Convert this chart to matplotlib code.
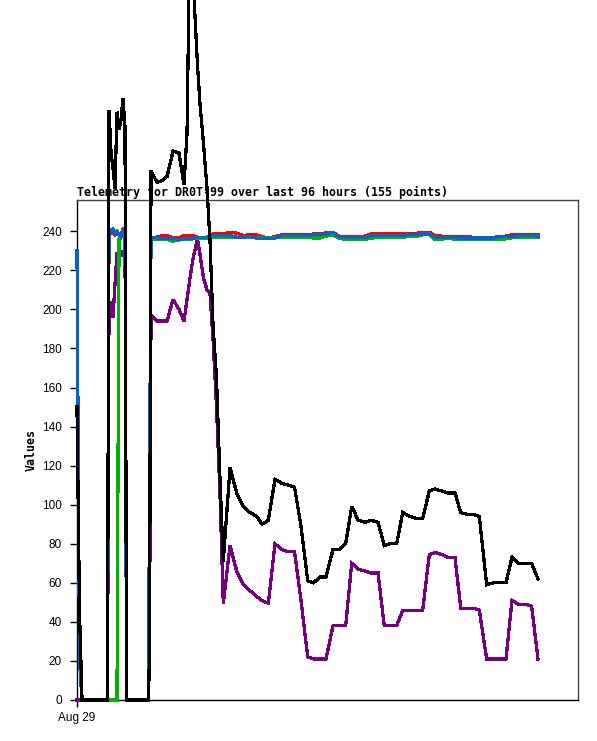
import matplotlib
matplotlib.use('Agg')
import matplotlib.pyplot as plt

# hours since Aug 29 00:00
hours = [0.00, 0.48, 0.96, 5.84, 6.13, 6.51, 6.90, 7.28, 7.66, 8.05, 8.43, 8.81,
         9.20, 9.49, 13.70, 13.89, 14.18, 15.33, 16.29, 17.25, 18.40, 19.54, 20.50,
         21.08, 21.65, 22.23, 23.09, 23.57, 24.24, 24.91, 25.49, 26.06, 26.73, 27.40,
         28.03, 29.32, 30.60, 31.87, 33.15, 34.43, 35.45, 36.66, 37.94, 39.22,
         40.49, 41.68, 42.92, 44.21, 45.32, 46.56, 47.71, 49.05, 50.20, 51.48,
         52.64, 53.90, 55.19, 56.34, 57.68, 58.88, 59.98, 61.26, 62.41, 63.81,
         64.96, 66.24, 67.51, 68.60, 69.88, 71.03, 72.43, 73.53, 74.79, 76.07,
         77.09, 78.50, 79.77, 81.05, 82.20, 83.35, 84.63, 85.90, 87.12, 88.33]

black_vals = [150, 45, 0, 0, 302, 281, 272, 262, 301, 292, 297, 308, 293, 0, 0, 25,
              271, 265, 266, 268, 281, 280, 264, 290, 400, 370, 325, 305, 285, 262,
              235, 192, 165, 113,
              71, 119, 106, 99, 96, 94, 90, 92, 113, 111, 110, 109, 89, 61, 60, 63,
              63, 77, 77, 80, 99, 92, 91, 92, 91, 79, 80, 80, 96, 94, 93, 93, 107,
              108, 107, 106, 106, 96, 95, 95, 94, 59, 60, 60, 60, 73, 70, 70, 70, 62]

purple_vals = [0, 0, 0, 0, 200, 204, 196, 213, 229, 226, 230, 227, 231, 0, 0, 25,
               197, 194, 194, 194, 205, 200, 194, 205, 216, 226, 236, 228, 216, 210,
               208, 185, 150, 105,
               49.5, 79, 66, 59, 56, 53, 51, 49.5, 80, 77, 76, 76, 51, 22, 21, 21,
               21, 38, 38, 38, 70, 67, 66, 65, 65, 38, 38, 38, 46, 46, 46, 46, 74.5,
               75.5, 74.5, 73, 73, 47, 47, 47, 46, 21, 21, 21, 21, 51, 49, 49, 48, 21]

red_vals = [230, 20, 0, 0, 239, 239, 239, 238, 239, 238, 238, 241, 240, 0, 0, 105,
            237, 237, 237.8, 237.8, 236.7, 236.7, 237.8, 237.8, 237.8, 237.8, 237,
            237, 237, 237, 238, 238.6, 238.6, 238.6,
            238.6, 239.5, 239, 237.8, 238.2, 238.2, 237.3, 236.5, 237.3, 238.2,
            238.2, 238.2, 238.2, 238.2, 238.6, 238.6, 239.2, 239.5, 237.5, 237.5,
            237.5, 237.5, 237.5, 238.6, 238.6, 238.6, 238.6, 238.6, 238.6, 238.9,
            238.9, 239.5, 239.5, 237.8, 237.5, 237.5, 237.5, 237.5, 237.5, 236.7,
            236.7, 236.7, 236.7, 237.5, 237.5, 238.2, 238.2, 238.2, 238.2, 238.2]

green_vals = [230, 20, 0, 0, 0, 0, 0, 0, 0, 236, 237, 238, 238, 0, 0, 100,
              235.8, 235.8, 235.8, 235.8, 234.8, 235.8, 235.8, 235.8, 235.8, 236.1,
              236.1, 236.1, 236.1, 236.1, 237.1, 237.1, 237.1, 237.1,
              237.1, 237.1, 236.7, 236.7, 236.7, 236.7, 236.7, 236.7, 236.7, 237,
              237.1, 237.1, 237.1, 237.1, 236.5, 236.5, 237.5, 238.2, 236.5, 235.8,
              235.8, 235.8, 235.8, 236.4, 237, 237, 237, 237, 237, 237.3,
              237.3, 238.2, 238.2, 235.8, 235.8, 236.7, 235.8, 235.8, 235.8, 235.8,
              235.8, 235.8, 235.8, 235.8, 236.1, 236.7, 236.7, 236.7, 236.7, 236.7]

blue_vals = [230, 20, 0, 0, 241, 240, 241, 239, 240, 238, 237, 240, 239, 0, 0, 110,
             236.7, 236.7, 236.1, 236.1, 236.1, 235.5, 236.1, 236.1, 236.1, 236.1,
             237, 237, 237, 237, 237.5, 237.8, 237.8, 237.8,
             237.8, 237.8, 237, 237, 237.3, 236.5, 236.1, 236.1, 236.5, 237.8,
             237.8, 237.8, 237.8, 237.8, 238.2, 238.2, 238.6, 239.5, 237, 236.7,
             236.7, 236.7, 236.7, 237.8, 237.8, 237.8, 237.8, 237.8, 237.8, 238.2,
             238.2, 238.6, 238.6, 237, 237, 237, 236.7, 236.5, 236.5, 236.5,
             236.5, 236.5, 236.5, 237.3, 237.3, 237.3, 237.8, 237.8, 237.8, 237.5]

y_ticks = list(range(0, 241, 20))
x_ticks = [0]
x_labels = ['Aug 29']

fig = plt.figure(figsize=(5.97, 7.41), dpi=100)
ax = fig.add_axes([77 / 597, 1 - 700 / 741, 501 / 597, 500 / 741])

series = [(purple_vals, '#760080'), (red_vals, '#ff0000'), (green_vals, '#00b400'),
          (blue_vals, '#0066cc'), (black_vals, '#000000')]
for z, (vals, col) in enumerate(series):
    ax.plot(hours, vals, color=col, lw=1.6, clip_on=False, zorder=3 + z,
            antialiased=False, solid_joinstyle='miter')

ax.set_xlim(0, 96)
ax.set_ylim(0, 256)
ax.set_yticks(y_ticks)
ax.set_xticks(x_ticks)
ax.set_xticklabels(x_labels)

for side in ['top', 'right']:
    ax.spines[side].set_color('#444444')
    ax.spines[side].set_linewidth(1)
for side in ['left', 'bottom']:
    ax.spines[side].set_color('black')
    ax.spines[side].set_linewidth(1)

ax.tick_params(axis='y', length=5, width=1, pad=6, labelsize=8.5)
ax.tick_params(axis='x', length=5, width=1, pad=4, labelsize=8.5)
for lab in ax.get_xticklabels() + ax.get_yticklabels():
    lab.set_family('Liberation Sans')

ax.set_title('Telemetry for DR0T-99 over last 96 hours (155 points)', loc='left',
             fontsize=8.35, fontweight='bold', family='DejaVu Sans Mono', pad=3)
ax.set_ylabel('Values', fontsize=8.35, fontweight='bold', family='DejaVu Sans Mono',
              labelpad=3)

fig.savefig('out.png', dpi=100)
